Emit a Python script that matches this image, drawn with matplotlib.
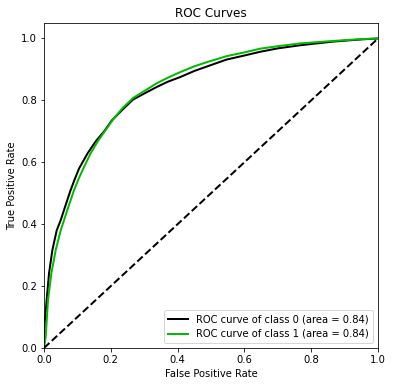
import numpy as np
import matplotlib
matplotlib.use('Agg')
import matplotlib.pyplot as plt

# ROC points (false positive rate, true positive rate)
fpr_0 = [0.0, 0.002, 0.008, 0.015, 0.025, 0.038, 0.05, 0.063, 0.078, 0.09,
         0.105, 0.13, 0.155, 0.18, 0.203, 0.235, 0.267, 0.30, 0.337, 0.37,
         0.407, 0.45, 0.497, 0.547, 0.60, 0.647, 0.70, 0.766, 0.866, 0.95, 1.0]
tpr_0 = [0.0, 0.08, 0.155, 0.241, 0.316, 0.38, 0.413, 0.456, 0.505, 0.54,
         0.58, 0.628, 0.668, 0.70, 0.735, 0.77, 0.803, 0.822, 0.843, 0.86,
         0.875, 0.895, 0.913, 0.932, 0.945, 0.957, 0.968, 0.978, 0.99, 0.997, 1.0]

fpr_1 = [0.0, 0.002, 0.005, 0.012, 0.022, 0.035, 0.05, 0.06, 0.073, 0.09,
         0.105, 0.12, 0.14, 0.163, 0.185, 0.208, 0.235, 0.267, 0.30, 0.337,
         0.37, 0.407, 0.45, 0.492, 0.547, 0.60, 0.647, 0.70, 0.766, 0.866,
         0.95, 1.0]
tpr_1 = [0.0, 0.015, 0.036, 0.155, 0.241, 0.316, 0.38, 0.413, 0.456, 0.51,
         0.55, 0.585, 0.63, 0.671, 0.705, 0.74, 0.775, 0.808, 0.83, 0.855,
         0.873, 0.891, 0.91, 0.925, 0.943, 0.955, 0.967, 0.975, 0.984, 0.992,
         0.998, 1.0]

auc_labels = ['ROC curve of class 0 (area = 0.84)',
              'ROC curve of class 1 (area = 0.84)']

fig = plt.figure(figsize=(394 / 72, 387 / 72), dpi=72)
ax = fig.add_axes([44 / 394, 1 - 348 / 387, 334 / 394, 325 / 387])

ax.plot(fpr_0, tpr_0, lw=2, color=plt.cm.nipy_spectral(0.0), label=auc_labels[0])
ax.plot(fpr_1, tpr_1, lw=2, color=plt.cm.nipy_spectral(0.5), label=auc_labels[1])
ax.plot([0, 1], [0, 1], 'k--', lw=2)

ax.set_xlim([0.0, 1.0])
ax.set_ylim([0.0, 1.05])
ax.set_title('ROC Curves', fontsize='large')
ax.set_xlabel('False Positive Rate', fontsize='medium')
ax.set_ylabel('True Positive Rate', fontsize='medium')
ax.tick_params(labelsize='medium')
ax.legend(loc='lower right', fontsize='medium')

fig.savefig('out.png', dpi=72)
